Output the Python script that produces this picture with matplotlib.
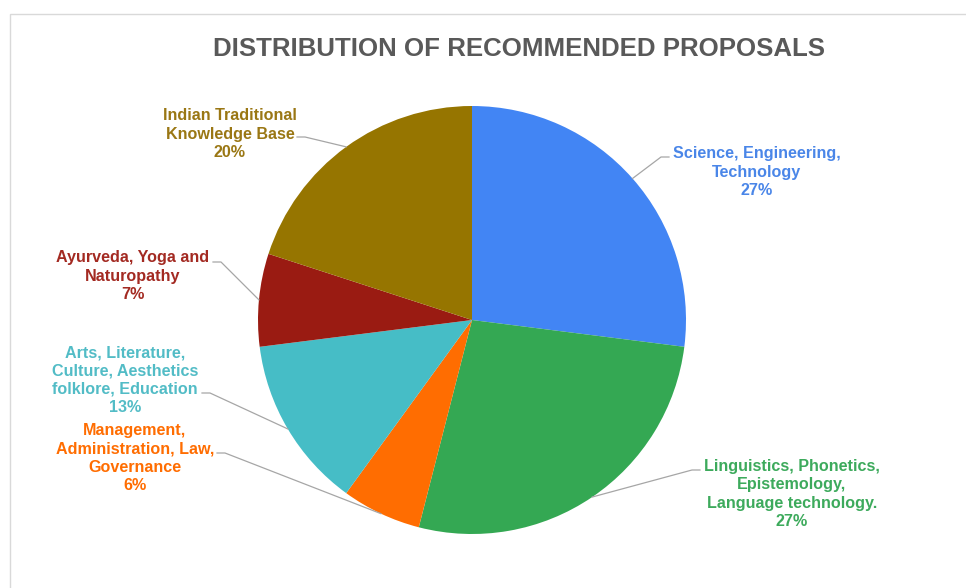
import matplotlib.pyplot as plt
import numpy as np
from matplotlib.patches import Rectangle

plt.rcParams["font.family"] = ["Liberation Sans", "DejaVu Sans"]

# ---------------------------------------------------------------------------
# Data
# ---------------------------------------------------------------------------
TITLE = "DISTRIBUTION OF RECOMMENDED PROPOSALS"
CATEGORIES = [
    "Science, Engineering,\nTechnology",
    "Linguistics, Phonetics,\nEpistemology,\nLanguage technology.",
    "Management,\nAdministration, Law,\nGovernance",
    "Arts, Literature,\nCulture, Aesthetics\nfolklore, Education",
    "Ayurveda, Yoga and\nNaturopathy",
    "Indian Traditional\nKnowledge Base",
]
SHARES = [27, 27, 6, 13, 7, 20]
COLORS = ["#4285F4", "#34A853", "#FF6D01", "#46BDC6", "#9A1B12", "#967500"]
LABEL_COLORS = ["#4A86E8", "#3DAA5C", "#FF6D01", "#52BCC6", "#A32A22", "#9A7714"]

# label text centre (pixel coords in the 966x588 picture) and leader elbow
LABEL_POS = [(757, 172), (792, 494), (135, 458), (125, 380), (133, 276), (230, 134)]
ELBOW_ANCHOR = [(669, 157), (700, 470), (217, 453), (202, 393), (213, 262), (297, 137)]

W, H = 966, 588
CX, CY, R = 472, 320, 214

fig = plt.figure(figsize=(W / 100, H / 100), dpi=100)

# chart frame
fig.patches.append(Rectangle((10 / W, -0.01), 1.0, (H - 14) / H + 0.01,
                             transform=fig.transFigure, fill=False,
                             edgecolor="#D9D9D9", linewidth=1.0))

fig.text(519 / W, 1 - 49 / H, TITLE, ha="center", va="center",
         fontsize=18.6, fontweight="bold", color="#595959")

ax = fig.add_axes([(CX - R) / W, (H - CY - R) / H, 2 * R / W, 2 * R / H])
wedges, _ = ax.pie(SHARES, colors=COLORS, startangle=90, counterclock=False,
                   radius=1.0, wedgeprops=dict(linewidth=0))
ax.set_xlim(-1, 1)
ax.set_ylim(-1, 1)
ax.set_aspect("equal")
ax.axis("off")


def px_to_data(x, y):
    return (x - CX) / R, (CY - y) / R


for wedge, label, share, lcol, pos, anchor in zip(
        wedges, CATEGORIES, SHARES, LABEL_COLORS, LABEL_POS, ELBOW_ANCHOR):
    ang = np.deg2rad((wedge.theta1 + wedge.theta2) / 2)
    ex, ey = np.cos(ang), np.sin(ang)
    ax0, ay0 = px_to_data(*anchor)
    direction = 1 if ex > 0 else -1
    elbow_x = ax0 - direction * 8 / R
    ax.plot([ax0, elbow_x, ex], [ay0, ay0, ey], color="#A6A6A6",
            linewidth=0.9, clip_on=False, zorder=1)
    tx, ty = px_to_data(*pos)
    ax.text(tx, ty, f"{label}\n{share}%", ha="center", va="center",
            fontsize=11.6, fontweight="bold", color=lcol,
            linespacing=1.27, clip_on=False)

fig.savefig("out.png", dpi=100, facecolor="white")
